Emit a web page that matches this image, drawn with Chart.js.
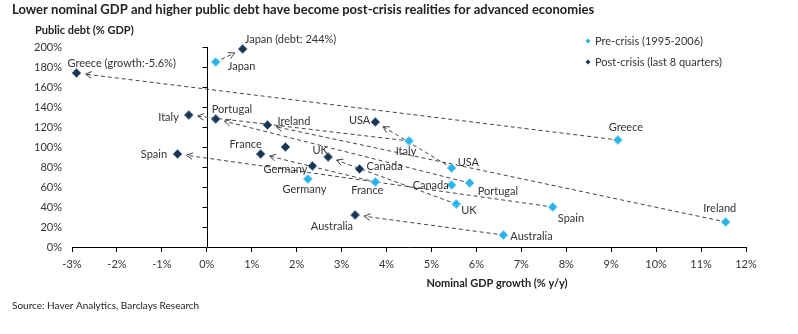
<!DOCTYPE html>
<html>
<head>
<meta charset="utf-8">
<script src="https://cdn.jsdelivr.net/npm/chart.js@4.4.1/dist/chart.umd.min.js"></script>
<style>
  html, body { margin: 0; padding: 0; background: #fff; }
  #chart1 { display: block; }
</style>
</head>
<body>
<canvas id="chart1" width="798" height="334"></canvas>
<script>
// pre-crisis (1995-2006) averages
const preCountries = ['Japan', 'Greece', 'Italy', 'USA', 'Canada', 'Portugal', 'UK', 'France', 'Germany', 'Australia', 'Spain', 'Ireland'];
const preGrowth = [0.2, 9.15, 4.5, 5.45, 5.45, 5.85, 5.55, 3.75, 2.25, 6.6, 7.7, 11.55];
const preDebt = [185, 107, 106, 79, 62, 64, 43, 65, 68, 12, 40, 25];

// post-crisis (last 8 quarters)
const postCountries = ['Japan', 'Greece', 'Italy', 'Portugal', 'Ireland', 'USA', 'Spain', 'France', '', 'UK', 'Germany', 'Canada', 'Australia'];
const postGrowth = [0.8, -2.9, -0.4, 0.2, 1.35, 3.75, -0.65, 1.2, 1.75, 2.7, 2.35, 3.4, 3.3];
const postDebt = [198, 174, 132, 128, 122, 125, 93, 93, 100, 90, 81, 78, 32];

// countries joined by a dashed arrow (pre -> post)
const arrowCountries = ['Japan', 'Greece', 'Italy', 'Portugal', 'Ireland', 'Spain', 'France', 'UK', 'USA', 'Australia'];

const postLabelText = { Japan: 'Japan (debt: 244%)', Greece: 'Greece (growth:-5.6%)' };

// label placement relative to the marker: [dx, dy, align]
const preLabelPos = {
    Japan: [12, 4.5, 'left'], Greece: [8, -13, 'center'], Italy: [-3, 10, 'center'],
    USA: [6, -6, 'left'], Canada: [-3, 0, 'right'], Portugal: [8, 8, 'left'],
    UK: [5, 6, 'left'], France: [-8, 8, 'center'], Germany: [-3.5, 10, 'center'],
    Australia: [7, 1, 'left'], Spain: [5, 11, 'left'], Ireland: [-6, -14, 'center']
};
const postLabelPos = {
    Japan: [2, -10, 'left'], Greece: [-9, -10, 'left'], Italy: [-10, 2, 'right'],
    Portugal: [-4, -10, 'left'], Ireland: [10, -4, 'left'], USA: [-5, -2, 'right'],
    Spain: [-10.5, 0, 'right'], France: [-15, -10, 'center'], UK: [-8, -7, 'center'],
    Germany: [-5, 3, 'right'], Canada: [7, -3, 'left'], Australia: [-2, 11, 'right']
};

const PRE_COLOR = '#27b4ea';
const POST_COLOR = '#1b3551';
const TEXT = '#333333';
const FONT = 'Lato, "Open Sans", sans-serif';

function arrow(ctx, x1, y1, x2, y2) {
    const ang = Math.atan2(y2 - y1, x2 - x1);
    const len = Math.hypot(x2 - x1, y2 - y1);
    const sx = x1 + Math.cos(ang) * 6, sy = y1 + Math.sin(ang) * 6;
    const ex = x1 + Math.cos(ang) * (len - 9), ey = y1 + Math.sin(ang) * (len - 9);
    ctx.setLineDash([4, 3]);
    ctx.beginPath();
    ctx.moveTo(sx, sy);
    ctx.lineTo(ex, ey);
    ctx.stroke();
    ctx.setLineDash([]);
    ctx.beginPath();
    ctx.moveTo(ex - Math.cos(ang - 0.5) * 7, ey - Math.sin(ang - 0.5) * 7);
    ctx.lineTo(ex, ey);
    ctx.lineTo(ex - Math.cos(ang + 0.5) * 7, ey - Math.sin(ang + 0.5) * 7);
    ctx.stroke();
}

function diamond(ctx, cx, cy, r, color) {
    ctx.fillStyle = color;
    ctx.beginPath();
    ctx.moveTo(cx, cy - r);
    ctx.lineTo(cx + r, cy);
    ctx.lineTo(cx, cy + r);
    ctx.lineTo(cx - r, cy);
    ctx.closePath();
    ctx.fill();
}

const decor = {
    id: 'decor',
    beforeDatasetsDraw(chart) {
        const { ctx, chartArea, scales: { x, y } } = chart;
        ctx.save();
        // vertical axis sits at 0% growth
        const x0 = Math.round(x.getPixelForValue(0)) + 0.5;
        ctx.strokeStyle = '#000';
        ctx.lineWidth = 1;
        ctx.beginPath();
        ctx.moveTo(x0, chartArea.top);
        ctx.lineTo(x0, chartArea.bottom);
        y.ticks.forEach(t => {
            const py = Math.round(y.getPixelForValue(t.value)) + 0.5;
            ctx.moveTo(x0 - 5, py);
            ctx.lineTo(x0, py);
        });
        ctx.stroke();

        ctx.strokeStyle = '#444';
        arrowCountries.forEach(c => {
            const i = preCountries.indexOf(c), j = postCountries.indexOf(c);
            arrow(ctx,
                x.getPixelForValue(preGrowth[i]), y.getPixelForValue(preDebt[i]),
                x.getPixelForValue(postGrowth[j]), y.getPixelForValue(postDebt[j]));
        });
        ctx.restore();
    },
    afterDatasetsDraw(chart) {
        const { ctx, scales: { x, y } } = chart;
        ctx.save();
        ctx.fillStyle = TEXT;
        ctx.textBaseline = 'middle';
        ctx.font = '11px ' + FONT;
        preCountries.forEach((c, i) => {
            const p = preLabelPos[c];
            ctx.textAlign = p[2];
            ctx.fillText(c, x.getPixelForValue(preGrowth[i]) + p[0], y.getPixelForValue(preDebt[i]) + p[1]);
        });
        postCountries.forEach((c, i) => {
            if (!c) return;
            const p = postLabelPos[c];
            ctx.textAlign = p[2];
            ctx.fillText(postLabelText[c] || c, x.getPixelForValue(postGrowth[i]) + p[0], y.getPixelForValue(postDebt[i]) + p[1]);
        });

        // title, axis titles, source
        ctx.textAlign = 'left';
        ctx.fillStyle = '#222';
        ctx.font = 'bold 13px ' + FONT;
        ctx.fillText('Lower nominal GDP and higher public debt have become post-crisis realities for advanced economies', 12, 10);
        ctx.font = 'bold 11px ' + FONT;
        ctx.fillText('Public debt (% GDP)', 35, 30);
        ctx.textAlign = 'center';
        ctx.fillText('Nominal GDP growth (% y/y)', 497, 283);
        ctx.textAlign = 'left';
        ctx.font = '10px ' + FONT;
        ctx.fillText('Source: Haver Analytics, Barclays Research', 12, 306);

        // legend
        ctx.font = '11px ' + FONT;
        ctx.fillStyle = TEXT;
        ctx.fillText('Pre-crisis (1995-2006)', 595, 41);
        ctx.fillText('Post-crisis (last 8 quarters)', 595, 62);
        diamond(ctx, 588, 41, 2.5, PRE_COLOR);
        diamond(ctx, 588, 62, 2.5, POST_COLOR);
        ctx.restore();
    }
};

const ctx1 = document.getElementById('chart1').getContext('2d');
const chart1 = new Chart(ctx1, {
    type: 'scatter',
    data: {
        datasets: [{
            label: 'Pre-crisis (1995-2006)',
            data: preGrowth.map((g, i) => ({ x: g, y: preDebt[i] })),
            pointStyle: 'rectRot',
            pointRadius: 4.5,
            backgroundColor: PRE_COLOR,
            borderColor: '#7fd3f3',
            borderWidth: 1,
            clip: false
        }, {
            label: 'Post-crisis (last 8 quarters)',
            data: postGrowth.map((g, i) => ({ x: g, y: postDebt[i] })),
            pointStyle: 'rectRot',
            pointRadius: 4.5,
            backgroundColor: POST_COLOR,
            borderColor: '#6f8aa6',
            borderWidth: 1,
            clip: false
        }]
    },
    options: {
        responsive: false,
        animation: false,
        layout: { padding: { top: 47, right: 52, left: 0, bottom: 0 } },
        plugins: { legend: { display: false }, tooltip: { enabled: false } },
        scales: {
            x: {
                type: 'linear',
                min: -3,
                max: 12,
                afterFit: s => { s.height = 87; },
                ticks: {
                    stepSize: 1,
                    callback: v => v + '%',
                    font: { family: FONT, size: 11 },
                    color: TEXT,
                    padding: 6,
                    maxRotation: 0
                },
                grid: { drawOnChartArea: false, tickLength: 5, color: '#000' },
                border: { color: '#000', width: 1 }
            },
            y: {
                min: 0,
                max: 200,
                afterFit: s => { s.width = 72; },
                ticks: {
                    stepSize: 20,
                    callback: v => v + '%',
                    font: { family: FONT, size: 11 },
                    color: TEXT,
                    padding: 10
                },
                grid: { display: false, drawTicks: false },
                border: { display: false }
            }
        }
    },
    plugins: [decor]
});
</script>
</body>
</html>
